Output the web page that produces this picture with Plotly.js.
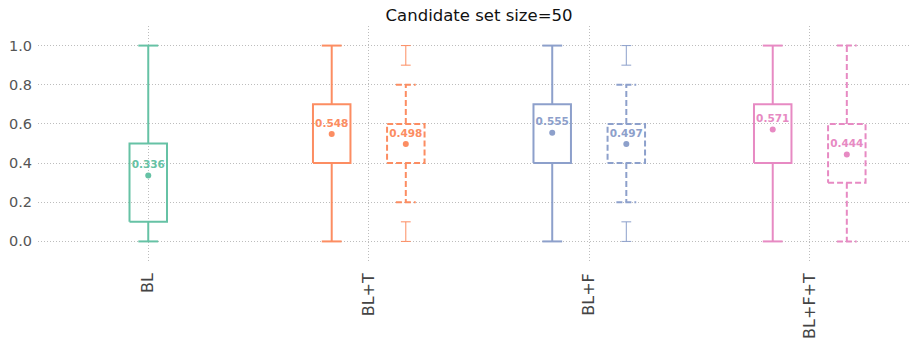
<!DOCTYPE html>
<html>
<head>
<meta charset="utf-8">
<script src="https://cdn.plot.ly/plotly-3.0.1.min.js"></script>
<style>html,body{margin:0;padding:0;background:#fff;}#chart{width:909px;height:338px;}</style>
</head>
<body>
<div id="chart"></div>
<script>
// ---- data ----
const categories = ['BL', 'BL+T', 'BL+F', 'BL+F+T'];
const colors = ['#66c2a5', '#fc8d62', '#8da0cb', '#e78ac3'];

// solid boxes (one per category)
const solidLow    = [0.0, 0.0, 0.0, 0.0];
const solidQ1     = [0.1, 0.4, 0.4, 0.4];
const solidQ3     = [0.5, 0.7, 0.7, 0.7];
const solidHigh   = [1.0, 1.0, 1.0, 1.0];
const solidMean   = [0.336, 0.548, 0.555, 0.571];

// dashed boxes (categories 1..3)
const dashedCats  = ['BL+T', 'BL+F', 'BL+F+T'];
const dashedLow   = [0.2, 0.2, 0.0];
const dashedQ1    = [0.4, 0.4, 0.3];
const dashedQ3    = [0.6, 0.6, 0.6];
const dashedHigh  = [0.8, 0.8, 1.0];
const dashedMean  = [0.498, 0.497, 0.444];
const dashedFliersLow  = [[0.0, 0.1], [0.0, 0.1], []];
const dashedFliersHigh = [[0.9, 1.0], [0.9, 1.0], []];

// y tick labels
const yTickVals = [0, 0.2, 0.4, 0.6, 0.8, 1.0];
const yTickText = ['0.0', '0.2', '0.4', '0.6', '0.8', '1.0'];

// ---- style ----
const BOX_HW = 0.085, CAP_HW = 0.045, OFFSET = 0.168;
const DASH = '6px,3px';

function boxPath(x, lo, q1, q3, hi) {
  const xs = [x - BOX_HW, x + BOX_HW, x + BOX_HW, x - BOX_HW, x - BOX_HW, null,
              x, x, null, x - CAP_HW, x + CAP_HW, null,
              x, x, null, x - CAP_HW, x + CAP_HW];
  const ys = [q1, q1, q3, q3, q1, null,
              q1, lo, null, lo, lo, null,
              q3, hi, null, hi, hi];
  return {xs, ys};
}

const traces = [];
categories.forEach((c, i) => {
  const x = i === 0 ? 0 : i - OFFSET;
  const p = boxPath(x, solidLow[i], solidQ1[i], solidQ3[i], solidHigh[i]);
  traces.push({type: 'scatter', mode: 'lines', x: p.xs, y: p.ys,
    line: {color: colors[i], width: 2}, hoverinfo: 'skip'});
  traces.push({type: 'scatter', mode: 'markers+text', x: [x], y: [solidMean[i]],
    text: [solidMean[i].toFixed(3)], textposition: 'top center',
    textfont: {family: 'DejaVu Sans', size: 10.5, color: colors[i], weight: 'bold'},
    marker: {color: colors[i], size: 6}, hoverinfo: 'skip'});
});
dashedCats.forEach((c, j) => {
  const i = categories.indexOf(c);
  const x = i + OFFSET;
  const p = boxPath(x, dashedLow[j], dashedQ1[j], dashedQ3[j], dashedHigh[j]);
  traces.push({type: 'scatter', mode: 'lines', x: p.xs, y: p.ys,
    line: {color: colors[i], width: 2, dash: DASH}, hoverinfo: 'skip'});
  [dashedFliersLow[j], dashedFliersHigh[j]].forEach(fl => {
    if (!fl.length) return;
    traces.push({type: 'scatter', mode: 'lines+markers', x: fl.map(() => x), y: fl,
      line: {color: colors[i], width: 1},
      marker: {symbol: 'line-ew-open', size: 7, color: colors[i], line: {color: colors[i], width: 1}},
      hoverinfo: 'skip'});
  });
  traces.push({type: 'scatter', mode: 'markers+text', x: [x], y: [dashedMean[j]],
    text: [dashedMean[j].toFixed(3)], textposition: 'top center',
    textfont: {family: 'DejaVu Sans', size: 10.5, color: colors[i], weight: 'bold'},
    marker: {color: colors[i], size: 6}, hoverinfo: 'skip'});
});

const layout = {
  width: 909, height: 338,
  margin: {l: 38, r: 0, t: 26, b: 77},
  paper_bgcolor: '#ffffff', plot_bgcolor: '#ffffff',
  showlegend: false,
  font: {family: 'DejaVu Sans', color: '#555555'},
  title: {text: 'Candidate set size=50', x: 0.527, xanchor: 'center', y: 0.955, yanchor: 'middle',
          font: {family: 'DejaVu Sans', size: 16.5, color: '#111111'}},
  xaxis: {
    range: [-0.5, 3.45], tickmode: 'array', tickvals: categories.map((c, i) => i), ticktext: categories,
    tickangle: -90, tickfont: {size: 16, color: '#444444'}, ticklabelstandoff: 8,
    showgrid: true, gridcolor: '#bdbdbd', griddash: '1px,2px', gridwidth: 1,
    zeroline: false, showline: false, ticks: '', fixedrange: true
  },
  yaxis: {
    range: [-0.1, 1.1], tickmode: 'array', tickvals: yTickVals, ticktext: yTickText,
    tickfont: {size: 14.5, color: '#555555'}, ticklabelstandoff: 5,
    showgrid: true, gridcolor: '#bdbdbd', griddash: '1px,2px', gridwidth: 1,
    zeroline: false, showline: false, ticks: '', fixedrange: true
  }
};

Plotly.newPlot('chart', traces, layout, {displayModeBar: false, staticPlot: true});
</script>
</body>
</html>
